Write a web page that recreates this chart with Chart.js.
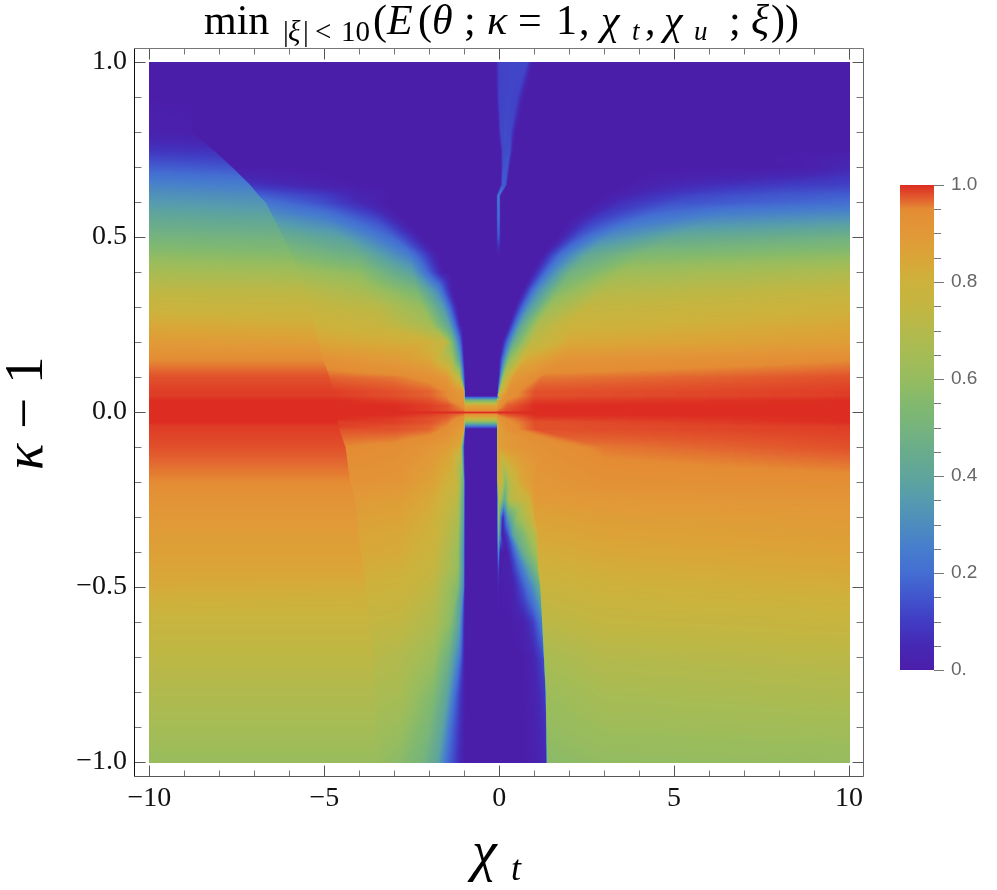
<!DOCTYPE html>
<html><head><meta charset="utf-8">
<style>html,body{margin:0;padding:0;background:#fff;width:997px;height:890px;overflow:hidden}
canvas{position:absolute}</style>
<script src="https://cdn.jsdelivr.net/npm/chart.js@4"></script>
</head><body>
<canvas id="main" width="997" height="890" style="left:0;top:0;width:997px;height:890px"></canvas>
<canvas id="bar" width="117" height="520" style="left:880px;top:170px;width:117px;height:520px"></canvas>
<script>
// Rows of the field, kappa - 1
const rowsY=[1,.9,.8,.75,.7,.65,.62,.6,.55,.5,.45,.4,.35,.3,.25,.2,.15,.1,.06,.048,.035,.02,.006,0,-.006,-.018,-.028,-.04,-.048,-.1,-.2,-.25,-.3,-.35,-.4,-.45,-.5,-.6,-.7,-.8,-1];
// For each row: chi_t positions of the profile knots
const knotX=[
[-10,-8.8,-8.78,-7,-5,-3,-2,-1.5,-.12,-.03,.4,.78,.95,2,4,6,8,10],
[-10,-8.8,-8.78,-7,-5,-3,-2,-1.5,-.1,-.02,.25,.5,.7,2,4,6,8,10],
[-10,-8.8,-8.78,-7,-5,-3,-2,-1.5,-.05,.03,.15,.32,.45,2,4,6,8,10],
[-10,-8.2,-8.17,-7,-5,-3,-2,-1.5,.02,.08,.15,.3,.38,2,4,6,8,10],
[-10,-7.65,-7.62,-6,-5,-3,-2,-1.5,.03,.09,.15,.22,.3,4,7,8,9,10],
[-10,-7.15,-7.12,-5,-4,-3,-2,-1.5,.02,.07,.11,.17,.22,3.6,5,7,8.5,10],
[-10,-6.9,-6.87,-5,-4,-3,-2,-1.5,-.1,-.06,-.04,-.01,.03,3,4,5.5,7.5,10],
[-10,-6.7,-6.67,-5,-4,-3.3,-2,-1.5,-.1,-.06,-.04,-.01,.03,2.7,3.5,5,7,10],
[-10,-6.45,-6.42,-5,-3.5,-2.7,-2,-1.5,-.1,-.06,-.04,-.01,.03,2,2.7,4,6,10],
[-10,-6.2,-6.17,-4.5,-3,-2.2,-1.8,-1.4,-.1,-.06,-.04,-.01,.03,1.65,2.2,3,5,10],
[-10,-5.95,-5.92,-4,-2.6,-1.75,-1.5,-1.3,-.1,-.06,-.04,-.01,.03,1.2,1.7,2.5,4,10],
[-10,-5.75,-5.72,-4,-2.5,-1.6,-1.4,-1.2,-.08,0,.2,.4,.6,.92,1.4,2,3.5,10],
[-10,-5.55,-5.52,-4,-2.4,-1.8,-1.35,-1.15,-.06,0,.15,.3,.45,.65,1.05,1.7,3,10],
[-10,-5.4,-5.37,-3.5,-2.2,-1.6,-1.2,-1.1,-.06,0,.1,.2,.3,.42,.8,1.4,2.5,10],
[-10,-5.3,-5.27,-3.5,-2,-1.45,-1.1,-1.05,-.05,0,.05,.1,.18,.25,.6,1.1,2,10],
[-10,-5.2,-5.17,-2,-1.5,-1.33,-1.13,-1.03,-.04,0,.02,.04,.05,.06,.4,.9,2,10],
[-10,-5.05,-5.02,-3,-2,-1.4,-1.15,-1,-.06,-.05,-.04,-.03,-.025,-.02,.25,.7,1.8,10],
[-10,-4.88,-4.85,-3,-2,-1.5,-1.15,-.98,-.08,-.07,-.06,-.05,-.045,-.04,.1,.4,1.2,10],
[-10,-4.75,-4.72,-3,-2,-1.5,-1.02,-.99,-.08,-.078,-.076,-.074,-.072,-.07,0,.25,1,10],
[-10,-4.72,-4.69,-3,-2,-1.5,-1.02,-.99,-.08,-.078,-.076,-.074,-.072,-.07,-.05,.2,1,10],
[-10,-4.7,-4.67,-3,-2,-1.5,-1.02,-.99,-.08,-.06,-.04,-.02,0,.03,.06,.2,1,10],
[-10,-4.7,-4.67,-3,-2,-1.5,-1.02,-.99,-.08,-.06,-.04,-.02,0,.03,.06,.2,1,10],
[-10,-4.7,-4.67,-3,-2,-1.5,-1.02,-.99,-.08,-.06,-.04,-.02,0,.03,.06,.2,1,10],
[-10,-4.7,-4.67,-3,-2,-1.5,-1.02,-.99,-.08,-.06,-.04,-.02,0,.03,.06,.2,1,10],
[-10,-4.68,-4.65,-3,-2,-1.5,-1.02,-.99,-.08,-.06,-.04,-.02,0,.03,.06,.2,1,10],
[-10,-4.66,-4.63,-3,-2,-1.5,-1.02,-.99,-.08,-.06,-.04,-.02,0,.03,.06,.2,1,10],
[-10,-4.64,-4.61,-3,-2,-1.5,-1.02,-.99,-.08,-.06,-.04,-.02,0,.03,.06,.2,1,10],
[-10,-4.62,-4.59,-3,-2,-1.5,-1.02,-.99,-.08,-.06,-.04,-.02,0,.03,.06,.2,1,10],
[-10,-4.6,-4.57,-3,-2,-1.5,-1.02,-.99,-.08,-.06,-.04,-.02,0,.03,.06,.2,1,10],
[-10,-4.42,-4.39,-3,-2,-1.5,-1.13,-1,-.08,-.06,-.04,0,.3,.8,1.2,1.25,3,10],
[-10,-4.28,-4.25,-2.85,-1.9,-1.2,-1.03,-.99,-.07,-.06,.05,.17,.3,.6,.9,.95,3,10],
[-10,-4.15,-4.12,-2.85,-1.9,-1.2,-1.03,-.99,-.07,-.05,.04,.13,.29,.87,.95,1,3,10],
[-10,-4.1,-4.07,-2.85,-1.9,-1.2,-1.03,-.99,-.07,-.05,.03,.09,.23,.49,.95,1,3,10],
[-10,-4.05,-4.02,-2.85,-1.9,-1.2,-1.03,-.99,-.07,-.05,0,.07,.21,.39,1.07,1.1,3,10],
[-10,-3.98,-3.95,-2.85,-1.9,-1.2,-1.03,-.99,-.07,-.05,.02,.2,.43,.67,1.07,1.1,3,10],
[-10,-3.9,-3.87,-2.85,-1.9,-1.2,-1.03,-.99,-.07,-.05,0,.3,.59,.87,1.09,1.12,3,10],
[-10,-3.85,-3.82,-2.85,-1.9,-1.2,-1.03,-.99,-.07,-.05,0,.38,.67,.95,1.15,1.18,3,10],
[-10,-3.75,-3.72,-2.85,-1.9,-1.43,-1.15,-.99,-.07,-.05,0,.3,.67,.95,1.2,1.23,3,10],
[-10,-3.65,-3.62,-2.85,-1.9,-1.45,-1.15,-.99,-.07,-.05,0,.3,.67,.95,1.25,1.28,3,10],
[-10,-3.6,-3.57,-2.85,-1.9,-1.5,-1.27,-.99,-.07,-.05,0,.3,.67,.95,1.3,1.33,3,10],
[-10,-3.5,-3.47,-2.85,-2.2,-1.8,-1.5,-1,-.07,-.05,0,.3,.67,.95,1.33,1.36,3,10]
];
// For each row: field value (hundredths) at the knots
const knotV=[
[0,0,0,0,0,0,0,0,0,11,12,12,0,0,0,0,0,0],
[0,0,0,0,0,0,0,0,0,11,12,11,0,0,0,0,0,0],
[2,1,0,0,0,0,0,0,0,12,13,12,0,0,0,0,0,0],
[8,7,0,0,0,0,0,0,0,12,13,13,0,0,0,0,0,0],
[17,15,0,0,0,0,0,0,0,14,15,15,0,0,0,0,1,5],
[27,25,8,2,0,0,0,0,0,16,16,15,0,0,5,8,10,11],
[32,30,17,10,3,0,0,0,0,20,22,20,0,0,6,12,15,17],
[35,33,22,13,5,0,0,0,0,20,22,20,0,0,7,14,17,20],
[43,41,34,27,13,0,0,0,0,18,20,18,0,0,10,22,30,34],
[50,49,45,38,18,0,0,0,0,13,15,13,0,0,15,30,43,48],
[58,56,54,46,25,0,0,0,0,0,0,0,0,0,20,42,54,58],
[66,64,63,58,38,0,0,0,0,0,0,0,0,0,25,48,63,68],
[73,72,71,66,52,30,0,0,0,0,0,0,0,0,28,55,70,75],
[78,77,76,72,60,35,0,0,0,0,0,0,0,0,32,62,75,80],
[84,82,80,77,65,40,0,0,0,0,0,0,0,0,40,68,79,84],
[89,88,85,81,73,50,20,0,0,0,0,0,0,0,45,73,84,88],
[95,95,93,89,85,70,40,0,0,0,0,0,0,0,57,83,92,95],
[98,98,97,96,94,90,72,0,0,0,0,0,0,0,67,90,96,98],
[99,99,99,98,97,95,88,0,0,0,0,0,0,0,74,93,98,99],
[99,99,99,98,97,95,89,0,0,0,0,0,0,0,82,93,98,99],
[100,100,100,99,98,96,91,50,50,87,88,89,90,91,92,95,99,100],
[100,100,100,100,99,98,94,85,85,91,91,92,93,94,95,97,100,100],
[100,100,100,100,99,98,96,93,93,96,96,96,97,97,97,98,100,100],
[100,100,100,100,100,100,100,100,100,100,100,100,100,100,100,100,100,100],
[100,100,100,100,99,98,96,93,93,96,96,96,97,97,97,98,100,100],
[100,100,100,99,98,97,93,78,78,90,90,91,91,92,93,95,99,100],
[100,100,99,99,98,96,91,55,55,87,88,89,89,90,91,94,98,100],
[99,99,99,98,97,95,89,20,20,85,86,87,88,89,90,93,98,99],
[99,99,98,98,97,94,88,0,0,85,86,87,88,89,90,93,98,99],
[98,98,95,94,91,88,83,0,0,85,86,88,90,92,93,93,96,98],
[95,95,92,91,86,76,45,0,0,82,78,55,72,84,88,90,93,94],
[92,92,89,88,83,72,40,0,0,70,60,42,70,80,86,89,90,91],
[90,90,87,86,81,68,37,0,0,70,25,5,35,60,78,86,88,89],
[88,88,85,84,80,65,33,0,0,55,30,0,10,40,74,84,86,88],
[87,87,84,83,78,62,30,0,0,35,0,0,20,45,65,82,84,86],
[85,85,82,81,76,60,30,0,0,15,0,3,20,40,55,80,82,84],
[83,82,80,79,73,55,27,0,0,3,0,2,15,30,45,77,80,82],
[77,77,75,74,68,58,38,0,0,0,0,0,2,10,25,72,75,77],
[73,73,71,69,62,47,24,0,0,0,0,0,0,3,13,66,70,72],
[69,69,67,66,55,40,20,0,0,0,0,0,0,2,9,62,66,68],
[61,61,60,57,50,40,20,0,0,0,0,0,0,1,5,57,59,60]
];
// Colour legend stops
const legendValues=[0,.05,.1,.15,.2,.25,.3,.35,.4,.45,.5,.55,.6,.65,.7,.75,.8,.85,.9,.95,.97,1];
const legendColors=['#4b1eaa','#4628b4','#413cc3','#4155cd','#446ed2','#467dcd','#4e8cbe','#559baf','#5fa59b','#69ac8c','#76b47d','#82b96e','#96bc5f','#a5bc55','#b4b94b','#c3b641','#cdb23c','#daa537','#e29837','#e48c34','#e3622f','#dd2c22'];
const xMajor=[-10,-5,0,5,10];
const xMinor=[-9,-8,-7,-6,-4,-3,-2,-1,1,2,3,4,6,7,8,9];
const yMajor=[-1,-.5,0,.5,1];
const yMinor=[-.9,-.8,-.7,-.6,-.4,-.3,-.2,-.1,.1,.2,.3,.4,.6,.7,.8,.9];
const barTicks=[0,.05,.1,.15,.2,.25,.3,.35,.4,.45,.5,.55,.6,.65,.7,.75,.8,.85,.9,.95,1];
const barLabels={0:'0.',0.2:'0.2',0.4:'0.4',0.6:'0.6',0.8:'0.8',1:'1.0'};
// text, style, size
const titleRuns=[['min','',42,204,34],['|','',29,283,41],['ξ','italic ',29,288,41],['|','',29,303,41],['<','',29,315,41],['10','',29,341,41],['(','',42,373,34],['E','italic ',42,387,34],['(','',42,418,34],['θ','italic ',42,432,34],[';','',42,464,34],['κ','italic ',42,487,34],['=','',42,518,34],['1','',42,556,34],[',','',42,579,34],['χ','italic ',42,601,34],['t','italic ',27,632,40],[',','',42,645,34],['χ','italic ',42,664,34],['u','italic ',27,694,40],[';','',42,729,34],['ξ','italic ',42,751,34],['))','',42,771,34]];
const yTitleRuns=[['κ','italic ',55,0],['−','',55,41],['1','',55,86]];
const xTitleRuns=[['χ','italic ',56,472,870],['t','italic ',36,511,880]];

const SERIF='"Liberation Serif"';
function hexRgb(h){return [1,3,5].map(i=>parseInt(h.substr(i,2),16));}
const lut=[];(function(){const st=legendColors.map(hexRgb);
 for(let i=0;i<=1000;i++){const v=i/1000;let k=0;while(k<legendValues.length-2&&v>legendValues[k+1])k++;
  const t=(v-legendValues[k])/(legendValues[k+1]-legendValues[k]);
  lut.push(st[k].map((c,j)=>c+(st[k+1][j]-c)*t));}})();

function drawRuns(ctx,runs){ctx.fillStyle='#000';ctx.textBaseline='alphabetic';ctx.textAlign='left';
 runs.forEach(r=>{ctx.font=r[1]+r[2]+'px '+SERIF;ctx.fillText(r[0],r[3],r[4]||0);});}

const heatPlugin={id:'heat',beforeDatasetsDraw(chart){
 const xs=chart.scales.x,ys=chart.scales.y,ctx=chart.ctx;
 const x0=Math.round(xs.getPixelForValue(-10)),x1=Math.round(xs.getPixelForValue(10));
 const y0=Math.round(ys.getPixelForValue(1)),y1=Math.round(ys.getPixelForValue(-1));
 const w=x1-x0+1,h=y1-y0+1,off=document.createElement('canvas');off.width=w;off.height=h;
 const oc=off.getContext('2d'),img=oc.createImageData(w,h),K=knotX[0].length;
 const kx=new Array(K),kv=new Array(K);
 for(let py=0;py<h;py++){
  const yv=Math.max(-1,Math.min(1,ys.getValueForPixel(y0+py)));
  let r=0;while(r<rowsY.length-2&&yv<rowsY[r+1])r++;
  const t=(rowsY[r]-yv)/(rowsY[r]-rowsY[r+1]);
  for(let k=0;k<K;k++){kx[k]=knotX[r][k]+(knotX[r+1][k]-knotX[r][k])*t;kv[k]=knotV[r][k]+(knotV[r+1][k]-knotV[r][k])*t;}
  let k=0;
  for(let px=0;px<w;px++){
   const xv=xs.getValueForPixel(x0+px);
   while(k<K-2&&xv>kx[k+1])k++;
   const d=kx[k+1]-kx[k],u=d>0?Math.max(0,Math.min(1,(xv-kx[k])/d)):1;
   const v=kv[k]+(kv[k+1]-kv[k])*u;
   const c=lut[Math.round(Math.max(0,Math.min(100,v))*10)],o=(py*w+px)*4;
   img.data[o]=c[0];img.data[o+1]=c[1];img.data[o+2]=c[2];img.data[o+3]=255;
  }
 }
 oc.putImageData(img,0,0);ctx.drawImage(off,x0,y0);
}};
const framePlugin={id:'frame',afterDraw(chart){
 const a=chart.chartArea,xs=chart.scales.x,ys=chart.scales.y,ctx=chart.ctx;
 ctx.save();ctx.lineWidth=1;
 const line=(x1,y1,x2,y2,c)=>{ctx.strokeStyle=c;ctx.beginPath();ctx.moveTo(x1,y1);ctx.lineTo(x2,y2);ctx.stroke();};
 const L=Math.round(a.left)+.5,R=Math.round(a.right)+.5,T=Math.round(a.top)+.5,B=Math.round(a.bottom)+.5;
 xMajor.forEach(v=>{const p=Math.round(xs.getPixelForValue(v))+.5;line(p,B,p,B-11,'#555');line(p,T,p,T+11,'#555');});
 xMinor.forEach(v=>{const p=Math.round(xs.getPixelForValue(v))+.5;line(p,B,p,B-6,'#777');line(p,T,p,T+6,'#777');});
 yMajor.forEach(v=>{const p=Math.round(ys.getPixelForValue(v))+.5;line(L,p,L+11,p,'#555');line(R,p,R-11,p,'#555');});
 yMinor.forEach(v=>{const p=Math.round(ys.getPixelForValue(v))+.5;line(L,p,L+7,p,'#777');line(R,p,R-7,p,'#777');});
 line(L,T,R,T,'#777');line(R,T,R,B,'#666');line(L,B,R,B,'#555');line(L,T,L,B,'#111');
 drawRuns(ctx,titleRuns);
 drawRuns(ctx,xTitleRuns);
 ctx.save();ctx.translate(42,470);ctx.rotate(-Math.PI/2);drawRuns(ctx,yTitleRuns);ctx.restore();
 ctx.restore();
}};
const points=[];rowsY.forEach((y,r)=>knotX[r].forEach((x,k)=>points.push({x,y,v:knotV[r][k]})));
new Chart(document.getElementById('main'),{type:'scatter',
 data:{datasets:[{label:'E',data:points,pointRadius:0,pointHoverRadius:0,showLine:false}]},
 options:{responsive:false,animation:false,events:[],
  layout:{padding:{left:0,top:48,right:134,bottom:0}},
  plugins:{legend:{display:false},tooltip:{enabled:false}},
  scales:{
   x:{type:'linear',min:-10.44,max:10.4,grid:{display:false,drawTicks:false},border:{display:false},
    afterBuildTicks(s){s.ticks=xMajor.map(value=>({value}));},
    afterFit(s){s.height=114;},
    ticks:{autoSkip:false,maxRotation:0,padding:6,color:'#111',font:{family:SERIF,size:28},callback:v=>String(v).replace('-','−')}},
   y:{type:'linear',min:-1.04,max:1.04,grid:{display:false,drawTicks:false},border:{display:false},
    afterBuildTicks(s){s.ticks=yMajor.map(value=>({value}));},
    afterFit(s){s.width=134;},
    ticks:{autoSkip:false,padding:7,color:'#111',font:{family:SERIF,size:28},callback:v=>v.toFixed(1).replace('-','−')}}
  }},plugins:[heatPlugin,framePlugin]});

const barTickPlugin={id:'barTicks',afterDraw(chart){
 const s=chart.scales.y,ctx=chart.ctx,r=Math.round(chart.chartArea.right);
 ctx.save();ctx.lineWidth=1;ctx.strokeStyle='#777';
 barTicks.forEach(v=>{const p=Math.round(s.getPixelForValue(v))+.5,maj=barLabels[v]!==undefined;
  ctx.beginPath();ctx.moveTo(r,p);ctx.lineTo(r+(maj?10:7),p);ctx.stroke();});
 ctx.restore();
}};
new Chart(document.getElementById('bar'),{type:'bar',
 data:{labels:['E'],datasets:[{data:[[0,1]],barPercentage:1,categoryPercentage:1,borderWidth:0,
  backgroundColor(c){const a=c.chart.chartArea;if(!a)return legendColors[0];
   const g=c.chart.ctx.createLinearGradient(0,a.bottom,0,a.top);legendValues.forEach((v,i)=>g.addColorStop(v,legendColors[i]));return g;}}]},
 options:{responsive:false,animation:false,events:[],
  layout:{padding:{left:20,top:15,right:0,bottom:20}},
  plugins:{legend:{display:false},tooltip:{enabled:false}},
  scales:{
   x:{display:false,grid:{display:false}},
   y:{position:'right',min:0,max:1,grid:{display:false,drawTicks:false},border:{display:false},
    afterBuildTicks(s){s.ticks=barTicks.map(value=>({value}));},
    afterFit(s){s.width=63;s.paddingTop=0;s.paddingBottom=0;},
    ticks:{autoSkip:false,padding:17,color:'#666',font:{family:'"Liberation Sans"',size:19},callback:v=>{const l=barLabels[v];return l===undefined?'':l;}}}
  }},plugins:[barTickPlugin]});
</script>
</body></html>
